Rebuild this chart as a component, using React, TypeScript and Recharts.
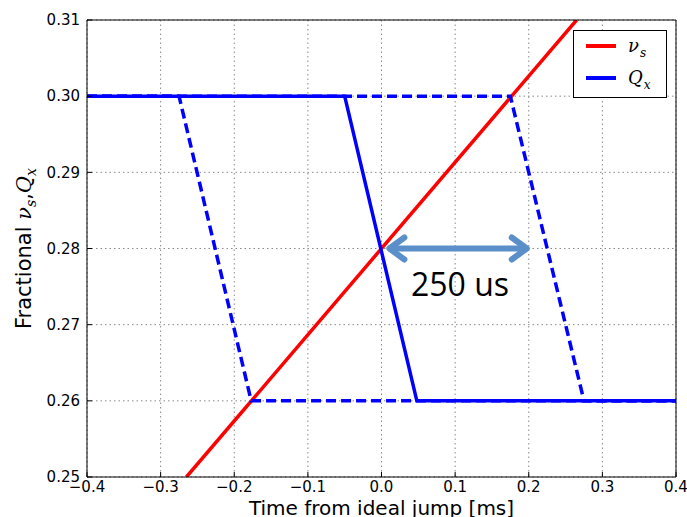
import React from "react";
import {
  LineChart,
  Line,
  XAxis,
  YAxis,
  CartesianGrid,
  ReferenceLine,
  Legend,
} from "recharts";

// axis ticks
const xTicks = [-0.4, -0.3, -0.2, -0.1, 0, 0.1, 0.2, 0.3, 0.4];
const yTicks = [0.25, 0.26, 0.27, 0.28, 0.29, 0.3, 0.31];

// synchrotron tune (red ramp)
const nuS = [
  { t: -0.265, v: 0.25 },
  { t: 0.265, v: 0.31 },
];
// Qx jump, ideal timing (solid)
const qxIdeal = [
  { t: -0.4, v: 0.3 },
  { t: -0.05, v: 0.3 },
  { t: 0.048, v: 0.26 },
  { t: 0.4, v: 0.26 },
];
// Qx jump, early / late timing (dashed)
const qxEarly = [
  { t: -0.4, v: 0.3 },
  { t: -0.275, v: 0.3 },
  { t: -0.177, v: 0.26 },
  { t: 0.4, v: 0.26 },
];
const qxLate = [
  { t: -0.4, v: 0.3 },
  { t: 0.175, v: 0.3 },
  { t: 0.275, v: 0.26 },
  { t: 0.4, v: 0.26 },
];

// annotation arrow
const arrowSpan = [
  { x: 0.008, y: 0.28 },
  { x: 0.2, y: 0.28 },
];
const arrowText = "250 us";

const legendSymbols: Record<string, { base: string; sub: string }> = {
  nu: { base: "ν", sub: "s" },
  qx: { base: "Q", sub: "x" },
};

const tickStyle = { fill: "#000", fontSize: 15, fontFamily: "DejaVu Sans" };
const fmtX = (v: number) => (v < 0 ? "\u2212" + Math.abs(v).toFixed(1) : v.toFixed(1));
const fmtY = (v: number) => v.toFixed(2);

function Arrow(props: any) {
  const { x1, y1, x2 } = props;
  const c = "#5b8fc9";
  const h = 17;
  const w = 11;
  return (
    <g>
      <g stroke={c} strokeWidth={6} strokeLinecap="round" fill="none">
        <line x1={x1 + 3} y1={y1} x2={x2 - 3} y2={y1} />
        <polyline points={`${x1 + h},${y1 - w} ${x1 + 2},${y1} ${x1 + h},${y1 + w}`} strokeLinejoin="round" />
        <polyline points={`${x2 - h},${y1 - w} ${x2 - 2},${y1} ${x2 - h},${y1 + w}`} strokeLinejoin="round" />
      </g>
      <text
        x={(x1 + x2) / 2 + 2}
        y={y1 + 47}
        textAnchor="middle"
        fontFamily="Open Sans"
        fontSize={32}
        fill="#000"
      >
        {arrowText}
      </text>
    </g>
  );
}

function LegendBox(props: any) {
  const items = (props.payload || []).filter((p: any) => p.type !== "none");
  return (
    <div
      style={{
        width: 92,
        height: 66,
        border: "1px solid #000",
        background: "#fff",
        boxSizing: "content-box",
      }}
    >
      <svg width={92} height={66}>
        {items.map((p: any, i: number) => {
          const s = legendSymbols[p.color === "#ff0000" ? "nu" : "qx"];
          const y = 15 + i * 32;
          return (
            <g key={i}>
              <line x1={12} x2={42} y1={y} y2={y} stroke={p.color} strokeWidth={4} />
              <text x={54} y={y + 6} fontFamily="DejaVu Serif" fontStyle="italic" fontSize={18} fill="#000">
                {s.base}
                <tspan dx={1} dy={5} fontSize={12}>
                  {s.sub}
                </tspan>
              </text>
            </g>
          );
        })}
      </svg>
    </div>
  );
}

export default function App() {
  return (
    <div style={{ position: "absolute", left: 0, top: 0, width: 687, height: 517, background: "#fff" }}>
      <LineChart width={687} height={517} margin={{ top: 0, right: 0, bottom: 0, left: 0 }}>
        <CartesianGrid stroke="#888" strokeDasharray="1.5 3" />
        <XAxis
          xAxisId={0}
          dataKey="t"
          type="number"
          domain={[-0.4, 0.4]}
          ticks={xTicks}
          interval={0}
          tickFormatter={fmtX}
          height={40}
          tick={tickStyle}
          tickSize={-5}
          tickMargin={9}
          stroke="#000"
          allowDataOverflow
          label={{
            content: (p: any) => {
              const vb = p.viewBox;
              return (
                <text
                  x={vb.x + vb.width / 2}
                  y={vb.y + 38}
                  textAnchor="middle"
                  fontFamily="DejaVu Sans"
                  fontSize={20}
                  fill="#000"
                >
                  Time from ideal jump [ms]
                </text>
              );
            },
          }}
        />
        <XAxis
          xAxisId="top"
          orientation="top"
          dataKey="t"
          type="number"
          domain={[-0.4, 0.4]}
          ticks={xTicks}
          interval={0}
          height={20}
          tick={false}
          tickSize={-5}
          stroke="#000"
        />
        <YAxis
          yAxisId={0}
          type="number"
          domain={[0.25, 0.31]}
          ticks={yTicks}
          interval={0}
          tickFormatter={fmtY}
          width={87}
          tick={tickStyle}
          tickSize={-5}
          tickMargin={12}
          stroke="#000"
          allowDataOverflow
          label={{
            content: (p: any) => {
              const vb = p.viewBox;
              const cx = 31;
              const cy = vb.y + vb.height / 2;
              return (
                <text
                  x={cx}
                  y={cy}
                  transform={`rotate(-90 ${cx} ${cy})`}
                  textAnchor="middle"
                  fontFamily="DejaVu Sans"
                  fontSize={21}
                  fill="#000"
                >
                  Fractional{" "}
                  <tspan fontFamily="DejaVu Serif" fontStyle="italic">ν</tspan>
                  <tspan fontFamily="DejaVu Serif" fontStyle="italic" fontSize={14} dy={5}>s</tspan>
                  <tspan dy={-5}>,</tspan>
                  <tspan fontFamily="DejaVu Serif" fontStyle="italic">Q</tspan>
                  <tspan fontFamily="DejaVu Serif" fontStyle="italic" fontSize={14} dy={5}>x</tspan>
                </text>
              );
            },
          }}
        />
        <YAxis
          yAxisId="right"
          orientation="right"
          type="number"
          domain={[0.25, 0.31]}
          ticks={yTicks}
          interval={0}
          width={11}
          tick={false}
          tickSize={-5}
          stroke="#000"
        />
        <Line
          data={nuS}
          dataKey="v"
          name="nu"
          stroke="#ff0000"
          strokeWidth={3.5}
          dot={false}
          isAnimationActive={false}
        />
        <Line
          data={qxIdeal}
          dataKey="v"
          name="qx"
          stroke="#0000ff"
          strokeWidth={3.5}
          dot={false}
          isAnimationActive={false}
        />
        <Line
          data={qxEarly}
          dataKey="v"
          name="early"
          stroke="#0000ff"
          strokeWidth={3.5}
          strokeDasharray="10 5"
          dot={false}
          legendType="none"
          isAnimationActive={false}
        />
        <Line
          data={qxLate}
          dataKey="v"
          name="late"
          stroke="#0000ff"
          strokeWidth={3.5}
          strokeDasharray="10 5"
          dot={false}
          legendType="none"
          isAnimationActive={false}
        />
        <ReferenceLine
          segment={arrowSpan}
          shape={(p: any) => <Arrow {...p} />}
        />
        <Legend
          layout="vertical"
          align="center"
          verticalAlign="middle"
          content={(p: any) => <LegendBox {...p} />}
          wrapperStyle={{ position: "absolute", left: 573, top: 30, width: 94, height: 68 }}
        />
      </LineChart>
    </div>
  );
}
